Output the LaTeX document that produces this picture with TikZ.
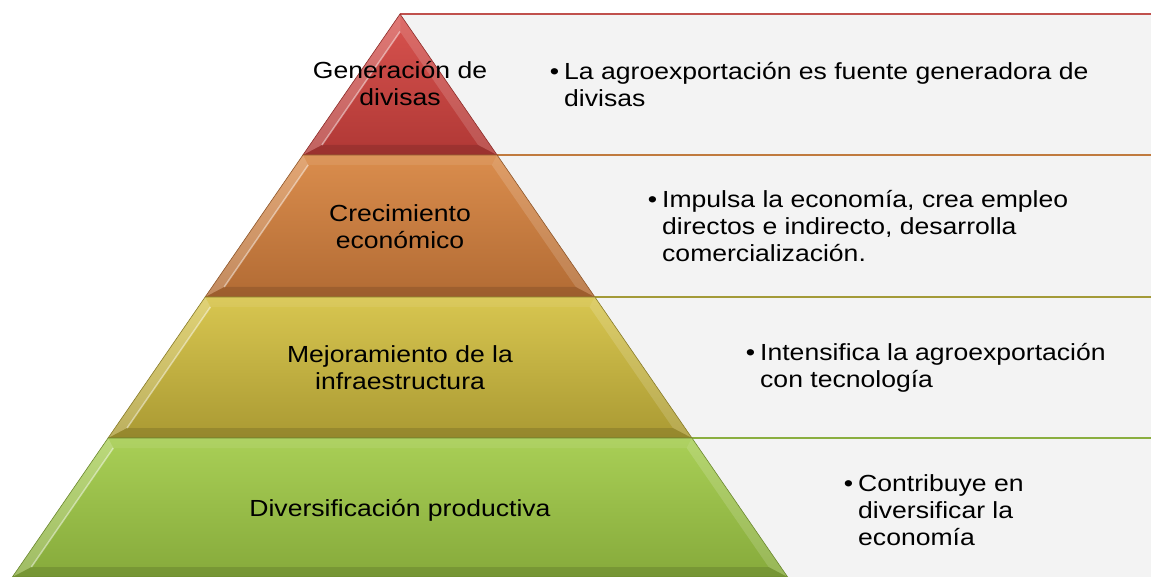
\documentclass[tikz,border=0pt]{standalone}
\usepackage{fontspec}
\setmainfont{Liberation Sans}[FakeStretch=1.14]
\usepackage{tikz}

\definecolor{redtop}{HTML}{D8534F}
\definecolor{redbot}{HTML}{B03835}
\definecolor{orangetop}{HTML}{DA8D4D}
\definecolor{orangebot}{HTML}{B26B34}
\definecolor{yellowtop}{HTML}{D8C650}
\definecolor{yellowbot}{HTML}{AA9A33}
\definecolor{greentop}{HTML}{A9CF56}
\definecolor{greenbot}{HTML}{86AA3B}
\definecolor{boxfill}{HTML}{F3F3F3}
\definecolor{redline}{HTML}{C0504D}
\definecolor{orangeline}{HTML}{C07A3E}
\definecolor{yellowline}{HTML}{A39A38}
\definecolor{greenline}{HTML}{8AAE3F}

\newcommand\lvlfont{\fontsize{23.3}{27}\selectfont}
\tikzset{lvltext/.style={align=center, font=\lvlfont, inner sep=0pt},
  boxtext/.style={align=left, anchor=west, font=\lvlfont, inner sep=0pt}}

\begin{document}
\begin{tikzpicture}[x=1pt,y=-1pt]
      \useasboundingbox (0,0) rectangle (1151,577);

      % text boxes behind the pyramid
      \foreach \yt/\yb/\c in {14/155/redline,155/297/orangeline,297/438/yellowline,438/577/greenline}{
        \pgfmathsetmacro\xl{400+(\yt-14)*0.6885}
        \fill [boxfill] (\xl,\yt) rectangle (1151,\yb);
        \draw [\c, line width=1.3] (\xl,\yt) -- (1151,\yt);
      }

      % pyramid levels
      \foreach \yt/\yb/\ca/\cb in {14/155/redtop/redbot,155/297/orangetop/orangebot,297/438/yellowtop/yellowbot,438/577/greentop/greenbot}{
        \pgfmathsetmacro\ot{(\yt-14)*0.6885}
        \pgfmathsetmacro\ob{(\yb-14)*0.6885}
        \pgfmathsetmacro\yti{max(\yt+10,31.6)}
        \pgfmathsetmacro\ybi{\yb-10}
        \pgfmathsetmacro\it{(\yti-31.6)*0.6885}
        \pgfmathsetmacro\ib{(\ybi-31.6)*0.6885}
        \shade [top color=\ca, bottom color=\cb] (400-\ot,\yt) -- (400+\ot,\yt) -- (400+\ob,\yb) -- (400-\ob,\yb) -- cycle;
        \fill [white, opacity=.22] (400-\ot,\yt) -- (400-\ob,\yb) -- (400-\ib,\ybi) -- (400-\it,\yti) -- cycle;
        \fill [white, opacity=.15] (400+\ot,\yt) -- (400+\ob,\yb) -- (400+\ib,\ybi) -- (400+\it,\yti) -- cycle;
        \fill [white, opacity=.08] (400-\ot,\yt) -- (400+\ot,\yt) -- (400+\it,\yti) -- (400-\it,\yti) -- cycle;
        \fill [black, opacity=.12] (400-\ob,\yb) -- (400+\ob,\yb) -- (400+\ib,\ybi) -- (400-\ib,\ybi) -- cycle;
        \draw [white, opacity=.45, line width=1.5] (400-\ib,\ybi) -- (400-\it,\yti);
        \draw [\cb!80!black, line width=.6] (400-\ot,\yt) -- (400+\ot,\yt) -- (400+\ob,\yb) -- (400-\ob,\yb) -- cycle;
      }

      \node [lvltext] (gen) at (400, 84) {Generación de\\divisas};
      \node [lvltext] (crec) at (400, 227) {Crecimiento\\económico};
      \node [lvltext] (mej) at (400, 368) {Mejoramiento de la\\infraestructura};
      \node [lvltext] (div) at (400, 510) {Diversificación productiva};

      \node [boxtext] (genx) at (564, 85) {\llap{•\hspace{5pt}}La agroexportación es fuente generadora de\\divisas};
      \node [boxtext] (crecx) at (662, 226) {\llap{•\hspace{5pt}}Impulsa la economía, crea empleo\\directos e indirecto, desarrolla\\comercialización.};
      \node [boxtext] (mejx) at (760, 368) {\llap{•\hspace{5pt}}Intensifica la agroexportación\\con tecnología};
      \node [boxtext] (divx) at (858, 510) {\llap{•\hspace{5pt}}Contribuye en\\diversificar la\\economía};

    \end{tikzpicture}
\end{document}
